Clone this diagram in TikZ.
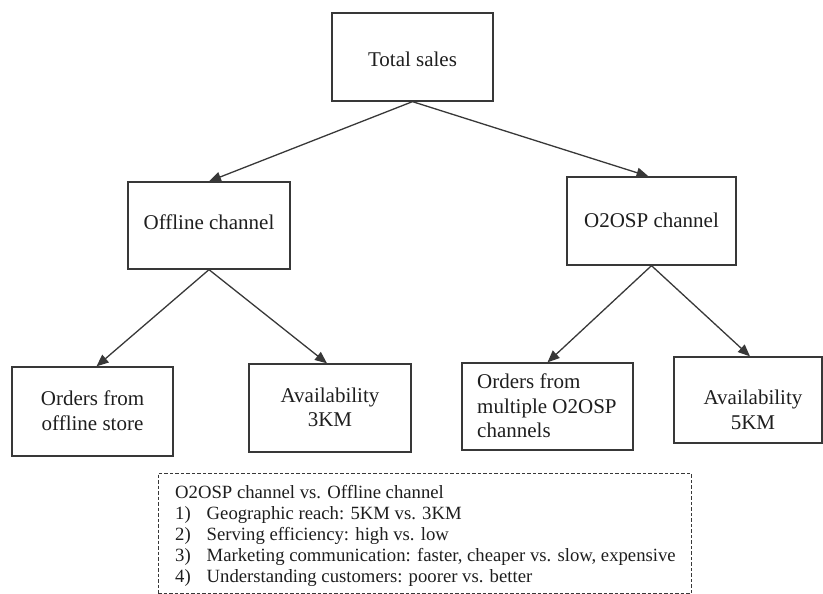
\documentclass[tikz,border=0pt]{standalone}
\usepackage{fontspec}
\setmainfont{Liberation Serif}
\usetikzlibrary{arrows.meta}
\definecolor{ln}{HTML}{383838}
\definecolor{tx}{HTML}{1E1E1E}
\begin{document}
\begin{tikzpicture}[x=1pt,y=-1pt,
  box/.style={draw=ln, line width=1.3pt, rectangle, inner sep=0pt},
  lbl/.style={text=tx, font=\fontsize{21}{24.5}\selectfont, align=center, inner sep=0pt},
  conn/.style={draw=ln, line width=1.3pt, -{Triangle[length=12pt,width=10pt]}},
  note/.style={text=tx, font=\fontsize{18.7}{21.2}\selectfont, inner sep=0pt, anchor=base west},
  cmpbox/.style={draw=ln, line width=1pt, dash pattern=on 3.5pt off 2pt, inner sep=0pt}]
\useasboundingbox (0,0) rectangle (823,594);

% boxes
\node[box, minimum width=161pt, minimum height=88pt] (T) at (412.5,57) {};
\node[box, minimum width=162pt, minimum height=87pt] (A) at (209,225.5) {};
\node[box, minimum width=169pt, minimum height=88pt] (B) at (651.5,221) {};
\node[box, minimum width=161pt, minimum height=89pt] (C) at (92.5,411.5) {};
\node[box, minimum width=162pt, minimum height=88pt] (D) at (330,408) {};
\node[box, minimum width=171pt, minimum height=87pt] (E) at (547.5,406.5) {};
\node[box, minimum width=148pt, minimum height=86pt] (F) at (748,400) {};

% labels
\node[lbl] (tT) at (412.5,59) {Total sales};
\node[lbl] (tA) at (209,222) {Offline channel};
\node[lbl] (tB) at (651.5,220) {O2OSP channel};
\node[lbl] (tC) at (92.5,410.5) {Orders from\\offline store};
\node[lbl] (tD) at (330,407.5) {Availability\\3KM};
\node[lbl, align=left, anchor=west] (tE) at (477,406) {Orders from\\multiple O2OSP\\channels};
\node[lbl] (tF) at (753,410) {Availability\\5KM};

% connectors
\draw[conn] (T.south) -- (A.north);
\draw[conn] (T.south) -- ([xshift=-3pt]B.north);
\draw[conn] (A.south) -- ([xshift=4pt]C.north);
\draw[conn] (A.south) -- ([xshift=-3pt]D.north);
\draw[conn] (B.south) -- (E.north);
\draw[conn] (B.south) -- ([xshift=2pt]F.north);

% comparison box
\node[cmpbox, minimum width=533pt, minimum height=120.5pt] (cmp) at (424.5,533.25) {};
\node[note] (h0) at (175,498) {O2OSP channel vs. Offline channel};
\node[note] (n1) at (175,519.2) {1)};
\node[note] (i1) at (206.5,519.2) {Geographic reach: 5KM vs. 3KM};
\node[note] (n2) at (175,540.4) {2)};
\node[note] (i2) at (206.5,540.4) {Serving efficiency: high vs. low};
\node[note] (n3) at (175,561.6) {3)};
\node[note] (i3) at (206.5,561.6) {Marketing communication: faster, cheaper vs. slow, expensive};
\node[note] (n4) at (175,582.8) {4)};
\node[note] (i4) at (206.5,582.8) {Understanding customers: poorer vs. better};
\end{tikzpicture}
\end{document}
